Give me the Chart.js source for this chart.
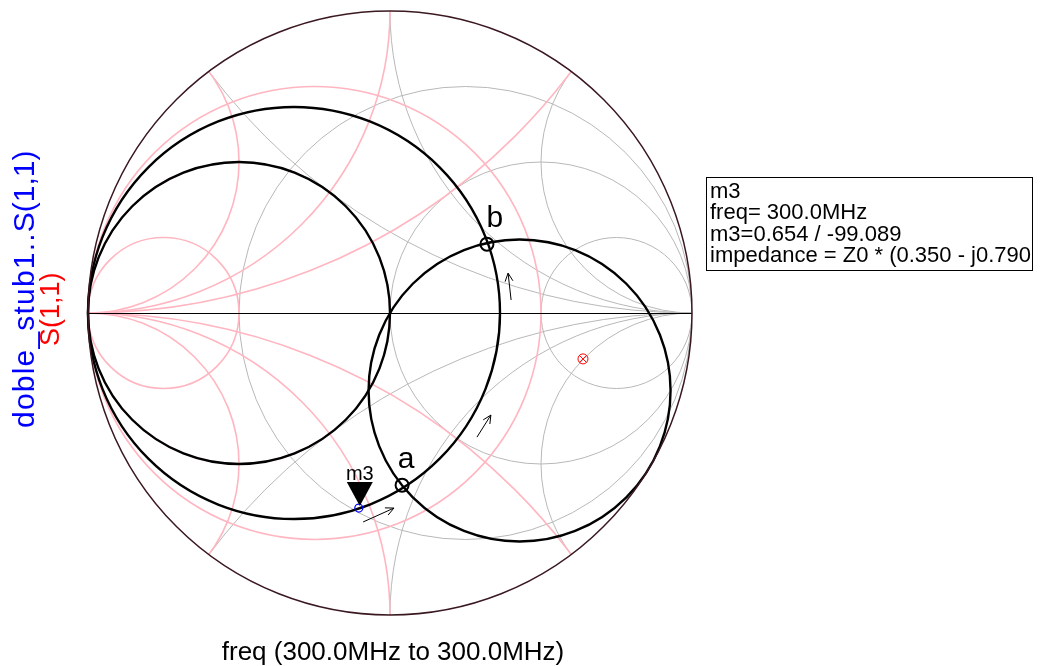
<!DOCTYPE html>
<html>
<head>
<meta charset="utf-8">
<script src="https://cdn.jsdelivr.net/npm/chart.js@4.4.1/dist/chart.umd.min.js"></script>
<style>
html, body { margin: 0; padding: 0; background: #fff; }
#wrap { position: relative; width: 1043px; height: 666px; }
</style>
</head>
<body>
<div id="wrap"><canvas id="smithChart" width="1043" height="666"></canvas></div>
<script>
// Smith chart grid (normalized values)
const resistanceCircles = [1 / 3, 1, 3];
const reactanceArcs = [0.5, 1, 2];

// black construction circles: constant conductance + g=1 circle rotated by stub spacing
const conductanceCircles = [1, 0.466];
const rotatedCircleAngle = [-30.9];

// doble_stub1..S(1,1) at 300 MHz (marker m3), magnitude / angle
const stubMag = [0.654];
const stubAng = [-99.089];

// S(1,1) (load) reflection coefficient, real / imag
const loadRe = [0.639];
const loadIm = [-0.152];

// intersection points a, b
const pointNames = ['a', 'b'];
const pointRe = [0.040, 0.321];
const pointIm = [-0.570, 0.228];

// little direction arrows (start -> end), in reflection-coefficient units
const arrowFromRe = [-0.089, 0.288, 0.401];
const arrowFromIm = [-0.692, -0.411, 0.043];
const arrowToRe = [0.013, 0.334, 0.391];
const arrowToIm = [-0.646, -0.338, 0.132];

const markerLines = [
    'm3',
    'freq= 300.0MHz',
    'm3=0.654 / -99.089',
    'impedance = Z0 * (0.350 - j0.790'
];

const FONT = '"Liberation Sans", Arial, sans-serif';

const stubPoints = stubMag.map((m, i) => ({
    x: m * Math.cos(stubAng[i] * Math.PI / 180),
    y: m * Math.sin(stubAng[i] * Math.PI / 180)
}));
const loadPoints = loadRe.map((r, i) => ({ x: r, y: loadIm[i] }));
const abPoints = pointRe.map((r, i) => ({ x: r, y: pointIm[i] }));

function toPx(chart, re, im) {
    return [chart.scales.x.getPixelForValue(re), chart.scales.y.getPixelForValue(im)];
}

function circleG(chart, cx, cy, rho) {
    const ctx = chart.ctx;
    const [px, py] = toPx(chart, cx, cy);
    const R = chart.scales.x.getPixelForValue(rho) - chart.scales.x.getPixelForValue(0);
    ctx.beginPath();
    ctx.arc(px, py, R, 0, Math.PI * 2);
    ctx.stroke();
}

// draws the impedance grid (sign=1) or admittance grid (sign=-1)
function drawGrid(chart, sign) {
    resistanceCircles.forEach(r => circleG(chart, sign * r / (1 + r), 0, 1 / (1 + r)));
    reactanceArcs.forEach(x => {
        circleG(chart, sign, 1 / x, 1 / x);
        circleG(chart, sign, -1 / x, 1 / x);
    });
}

// text drawn char by char with a little extra spacing
function spacedText(ctx, text, x, y, spacing) {
    for (const ch of text) {
        ctx.fillText(ch, x, y);
        x += ctx.measureText(ch).width + spacing;
    }
    return x;
}

const smithGrid = {
    id: 'smithGrid',
    beforeDatasetsDraw(chart) {
        const ctx = chart.ctx;
        const [ox, oy] = toPx(chart, 0, 0);
        const R = chart.scales.x.getPixelForValue(1) - ox;
        ctx.save();
        ctx.beginPath();
        ctx.arc(ox, oy, R, 0, Math.PI * 2);
        ctx.clip();
        ctx.strokeStyle = '#b8b8b8';
        ctx.lineWidth = 1;
        drawGrid(chart, 1);
        ctx.strokeStyle = '#ffb6c1';
        ctx.lineWidth = 1.6;
        drawGrid(chart, -1);
        ctx.restore();

        // real axis
        ctx.save();
        ctx.strokeStyle = '#000';
        ctx.lineWidth = 1;
        const ay = Math.round(oy) + 0.5;
        ctx.beginPath();
        ctx.moveTo(ox - R, ay);
        ctx.lineTo(ox + R, ay);
        ctx.stroke();

        // construction circles
        ctx.lineWidth = 2.4;
        conductanceCircles.forEach(g => circleG(chart, -g / (1 + g), 0, 1 / (1 + g)));
        rotatedCircleAngle.forEach(a => {
            const t = a * Math.PI / 180;
            circleG(chart, 0.5 * Math.cos(t), 0.5 * Math.sin(t), 0.5);
        });

        // outer circle
        ctx.strokeStyle = '#3a1820';
        ctx.lineWidth = 1.5;
        circleG(chart, 0, 0, 1);
        ctx.restore();
    },
    afterDatasetsDraw(chart) {
        const ctx = chart.ctx;
        ctx.save();

        // arrows
        ctx.strokeStyle = '#000';
        ctx.lineWidth = 1;
        arrowFromRe.forEach((_, i) => {
            const [x1, y1] = toPx(chart, arrowFromRe[i], arrowFromIm[i]);
            const [x2, y2] = toPx(chart, arrowToRe[i], arrowToIm[i]);
            const ang = Math.atan2(y2 - y1, x2 - x1);
            const h = 9;
            ctx.beginPath();
            ctx.moveTo(x1, y1);
            ctx.lineTo(x2, y2);
            ctx.moveTo(x2 - h * Math.cos(ang - 0.45), y2 - h * Math.sin(ang - 0.45));
            ctx.lineTo(x2, y2);
            ctx.lineTo(x2 - h * Math.cos(ang + 0.45), y2 - h * Math.sin(ang + 0.45));
            ctx.stroke();
        });

        // point labels a, b
        ctx.fillStyle = '#000';
        ctx.font = '30px ' + FONT;
        ctx.textAlign = 'center';
        ctx.textBaseline = 'alphabetic';
        abPoints.forEach((p, i) => {
            const [x, y] = toPx(chart, p.x, p.y);
            const dx = pointNames[i] === 'b' ? 8 : 4;
            ctx.fillText(pointNames[i], x + dx, y - 17);
        });

        // marker m3 (filled triangle, tip on the trace point)
        stubPoints.forEach(p => {
            const [x, y] = toPx(chart, p.x, p.y);
            ctx.beginPath();
            ctx.moveTo(x + 1, y - 2);
            ctx.lineTo(x - 12, y - 26);
            ctx.lineTo(x + 14, y - 26);
            ctx.closePath();
            ctx.fill();
            ctx.font = '20px ' + FONT;
            ctx.fillText('m3', x + 1, y - 28);
        });

        // marker readout box
        ctx.lineWidth = 1;
        ctx.strokeRect(706.5, 177.5, 326, 93);
        ctx.font = '22px ' + FONT;
        ctx.textAlign = 'left';
        markerLines.forEach((t, i) => ctx.fillText(t, 710, 198 + i * 21.3));

        // bottom axis label
        ctx.textAlign = 'center';
        ctx.font = '26px ' + FONT;
        ctx.fillText('freq (300.0MHz to 300.0MHz)', 393, 660);

        // left trace labels (rotated)
        ctx.textAlign = 'left';
        ctx.save();
        ctx.font = '30px ' + FONT;
        ctx.translate(34, 428);
        ctx.rotate(-Math.PI / 2);
        ctx.fillStyle = '#0000ff';
        const end = spacedText(ctx, 'doble_stub1..', 0, 0, 1.2);
        ctx.fillText('S(1,1)', end, 0);
        ctx.restore();
        ctx.save();
        ctx.font = '27px ' + FONT;
        ctx.translate(59, 346);
        ctx.rotate(-Math.PI / 2);
        ctx.fillStyle = '#ff0000';
        ctx.fillText('S(1,1)', 0, 0);
        ctx.restore();

        ctx.restore();
    }
};

new Chart(document.getElementById('smithChart').getContext('2d'), {
    type: 'scatter',
    data: {
        datasets: [
            {
                label: 'doble_stub1..S(1,1)',
                data: stubPoints,
                pointStyle: 'circle',
                pointRadius: 4,
                borderColor: '#0000ff',
                backgroundColor: 'rgba(0,0,0,0)',
                borderWidth: 1.2
            },
            {
                label: 'S(1,1)',
                data: loadPoints,
                pointStyle: 'circle',
                pointRadius: 5,
                borderColor: '#ff0000',
                backgroundColor: 'rgba(0,0,0,0)',
                borderWidth: 1
            },
            {
                label: 'S(1,1) x',
                data: loadPoints,
                pointStyle: 'crossRot',
                pointRadius: 5,
                borderColor: '#ff0000',
                borderWidth: 1
            },
            {
                label: 'points',
                data: abPoints,
                pointStyle: 'circle',
                pointRadius: 6.5,
                borderColor: '#000',
                backgroundColor: 'rgba(0,0,0,0)',
                borderWidth: 2
            }
        ]
    },
    options: {
        responsive: false,
        animation: false,
        layout: { padding: { left: 88, right: 351, top: 11, bottom: 51 } },
        scales: {
            x: { type: 'linear', min: -1, max: 1, display: false },
            y: { type: 'linear', min: -1, max: 1, display: false }
        },
        plugins: {
            legend: { display: false },
            tooltip: { enabled: false }
        }
    },
    plugins: [smithGrid]
});
</script>
</body>
</html>
